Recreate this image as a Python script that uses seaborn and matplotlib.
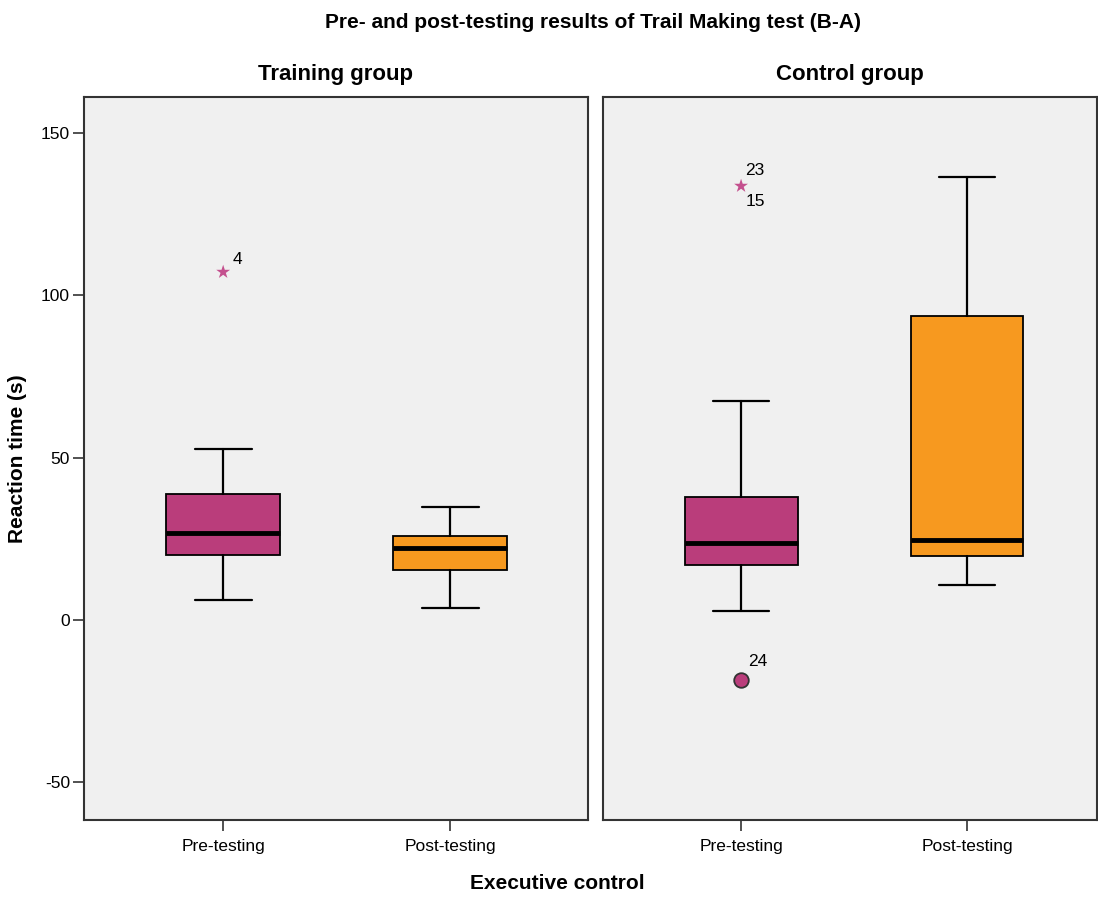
import matplotlib
matplotlib.use('Agg')
import matplotlib.pyplot as plt
import seaborn as sns
import pandas as pd

sns.set_style("white")
plt.rcParams['font.family'] = ['Liberation Sans', 'DejaVu Sans']
plt.rcParams['text.color'] = 'black'
plt.rcParams['xtick.color'] = 'black'
plt.rcParams['ytick.color'] = 'black'
plt.rcParams['axes.labelcolor'] = 'black'

# data (reaction time, s)
groups = ['Training group', 'Control group']
phases = ['Pre-testing', 'Post-testing']
whislo = [[6.3, 3.7], [2.8, 10.8]]
q1 = [[20.0, 15.5], [16.9, 19.8]]
med = [[26.8, 22.2], [23.7, 24.6]]
q3 = [[38.8, 25.9], [37.9, 93.6]]
whishi = [[52.8, 34.8], [67.5, 136.4]]

# extreme outliers (star) and mild outliers (circle): group index, phase index, value, labels
star_group = [0, 1]
star_phase = [0, 0]
star_value = [107.2, 133.7]
star_labels = [['4'], ['23', '15']]
circ_group = [1]
circ_phase = [0]
circ_value = [-18.5]
circ_labels = ['24']

box_colors = ['#BA3D7B', '#F7991F']
star_color = '#C4508E'

fig = plt.figure(figsize=(10.98, 8.97), dpi=100)
ax_l = fig.add_axes([0.0765, 0.0858, 0.459, 0.806])
ax_r = fig.add_axes([0.5492, 0.0858, 0.4498, 0.806], sharey=ax_l)
axes = [ax_l, ax_r]
xlims = [(-0.613, 1.607), (-0.611, 1.575)]

for g, ax in enumerate(axes):
    ax.set_facecolor('#F0F0F0')
    stats = []
    for p in range(len(phases)):
        stats.append(dict(whislo=whislo[g][p], q1=q1[g][p], med=med[g][p],
                          q3=q3[g][p], whishi=whishi[g][p], fliers=[], label=phases[p]))
    bp = ax.bxp(stats, positions=range(len(phases)), widths=0.5, patch_artist=True,
                showfliers=False,
                boxprops=dict(edgecolor='black', linewidth=1.3),
                medianprops=dict(color='black', linewidth=3.5),
                whiskerprops=dict(color='black', linewidth=1.6),
                capprops=dict(color='black', linewidth=1.6), capwidths=0.25)
    for patch, c in zip(bp['boxes'], box_colors):
        patch.set_facecolor(c)

    # outliers
    sdf = pd.DataFrame({'x': [star_phase[i] for i in range(len(star_value)) if star_group[i] == g],
                        'y': [star_value[i] for i in range(len(star_value)) if star_group[i] == g]})
    if len(sdf):
        sns.scatterplot(data=sdf, x='x', y='y', marker='*', s=110, color=star_color,
                        edgecolor='none', ax=ax, zorder=4)
    for i in range(len(star_value)):
        if star_group[i] != g:
            continue
        labs = star_labels[i]
        if len(labs) == 1:
            ax.text(star_phase[i] + 0.04, star_value[i] + 1.5, labs[0], fontsize=12.5,
                    ha='left', va='bottom')
        else:
            ax.text(star_phase[i] + 0.02, star_value[i] + 2.5, labs[0], fontsize=12.5,
                    ha='left', va='bottom')
            ax.text(star_phase[i] + 0.02, star_value[i] - 2.5, labs[1], fontsize=12.5,
                    ha='left', va='top')
    cdf = pd.DataFrame({'x': [circ_phase[i] for i in range(len(circ_value)) if circ_group[i] == g],
                        'y': [circ_value[i] for i in range(len(circ_value)) if circ_group[i] == g]})
    if len(cdf):
        sns.scatterplot(data=cdf, x='x', y='y', marker='o', s=110, color=box_colors[0],
                        edgecolor='#333333', linewidth=1.3, ax=ax, zorder=4)
        for i in range(len(circ_value)):
            if circ_group[i] == g:
                ax.text(circ_phase[i] + 0.03, circ_value[i] + 3.5, circ_labels[i],
                        fontsize=12.5, ha='left', va='bottom')

    ax.set_xlim(*xlims[g])
    ax.set_xticks(range(len(phases)))
    ax.set_xticklabels(phases, fontsize=12.5)
    ax.set_xlabel('')
    ax.set_ylabel('')
    ax.set_title(groups[g], fontsize=16, fontweight='bold', pad=12)
    for s in ax.spines.values():
        s.set_color('#333333')
        s.set_linewidth(1.5)
    ax.tick_params(axis='x', bottom=True, length=8, width=1.2, color='#333333', pad=6)
    ax.tick_params(axis='y', left=True, length=8, width=1.2, color='#333333', labelsize=12.5, pad=2)

ax_l.set_ylim(-61.6, 161.1)
ax_l.set_yticks([-50, 0, 50, 100, 150])
ax_l.set_yticklabels(['-50', '0', '50', '100', '150'])
ax_r.tick_params(axis='y', left=False, labelleft=False)

ax_l.set_ylabel('Reaction time (s)', fontsize=15, fontweight='bold', labelpad=10)
fig.text(0.508, 0.005, 'Executive control', fontsize=15, fontweight='bold', ha='center', va='bottom')
fig.text(0.54, 0.975, 'Pre- and post-testing results of Trail Making test (B-A)',
         fontsize=15, fontweight='bold', ha='center', va='center')

fig.savefig('out.png', dpi=100)
